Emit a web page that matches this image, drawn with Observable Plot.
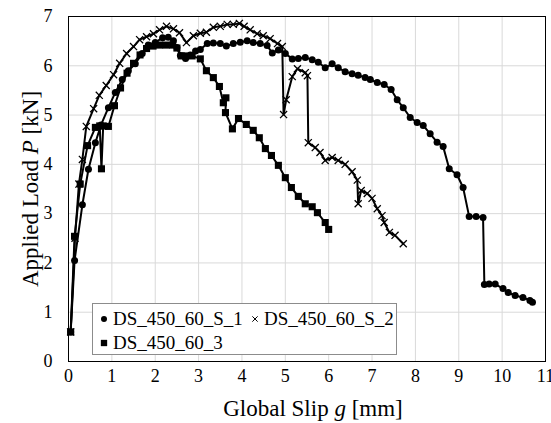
<!DOCTYPE html>
<html>
<head>
<meta charset="utf-8">
<script src="https://cdn.jsdelivr.net/npm/d3@7"></script>
<script src="https://cdn.jsdelivr.net/npm/@observablehq/plot@0.6"></script>
<style>
  body { margin: 0; background: white; }
  #chart { width: 551px; height: 423px; }
</style>
</head>
<body>
<div id="chart"></div>
<script>
const xTicks = [0, 1, 2, 3, 4, 5, 6, 7, 8, 9, 10, 11];
const yTicks = [0, 1, 2, 3, 4, 5, 6, 7];
const seriesNames = ["DS_450_60_S_1", "DS_450_60_S_2", "DS_450_60_3"];

const s1x = [0.05,0.14,0.32,0.46,0.62,0.75,0.92,1.08,1.24,1.38,1.54,1.7,1.84,2.0,2.17,2.3,2.42,2.5,2.58,2.7,2.81,2.93,3.04,3.2,3.34,3.5,3.64,3.8,3.96,4.12,4.26,4.42,4.58,4.7,4.84,5.0,5.16,5.3,5.46,5.62,5.76,5.92,6.08,6.22,6.38,6.54,6.68,6.84,6.96,7.12,7.28,7.44,7.58,7.72,7.88,8.04,8.18,8.34,8.5,8.64,8.78,8.96,9.1,9.24,9.4,9.56,9.59,9.7,9.84,10.02,10.14,10.3,10.48,10.64,10.7];
const s1y = [0.6,2.05,3.18,3.9,4.44,4.8,5.15,5.46,5.72,5.9,6.04,6.25,6.42,6.47,6.57,6.58,6.51,6.37,6.21,6.15,6.22,6.3,6.33,6.45,6.46,6.45,6.4,6.45,6.48,6.51,6.47,6.45,6.41,6.26,6.32,6.25,6.14,6.15,6.17,6.12,6.07,5.96,6.04,5.96,5.88,5.84,5.81,5.76,5.72,5.66,5.62,5.52,5.31,5.15,4.95,4.85,4.79,4.62,4.45,4.36,3.91,3.79,3.53,2.94,2.94,2.92,1.56,1.57,1.57,1.48,1.4,1.34,1.3,1.24,1.2];

const s2x = [0.05,0.15,0.24,0.32,0.41,0.58,0.71,0.87,1.04,1.18,1.34,1.5,1.64,1.8,1.96,2.1,2.26,2.42,2.56,2.72,2.88,3.04,3.18,3.34,3.5,3.66,3.8,3.94,4.05,4.19,4.35,4.49,4.65,4.82,4.93,4.96,5.02,5.16,5.28,5.46,5.51,5.53,5.69,5.8,5.92,6.08,6.22,6.38,6.54,6.66,6.68,6.75,6.89,7.0,7.12,7.23,7.28,7.4,7.53,7.72];
const s2y = [0.6,2.5,3.6,4.1,4.77,5.13,5.4,5.6,5.82,6.05,6.25,6.39,6.53,6.59,6.65,6.73,6.8,6.75,6.67,6.47,6.61,6.66,6.68,6.78,6.8,6.84,6.84,6.86,6.8,6.73,6.65,6.61,6.55,6.45,6.39,5.01,5.31,5.78,5.94,5.86,5.8,4.44,4.34,4.24,4.08,4.14,4.08,4.0,3.85,3.68,3.2,3.47,3.41,3.31,3.1,2.96,2.82,2.62,2.56,2.39];

const s3x = [0.05,0.14,0.27,0.44,0.62,0.72,0.76,0.8,0.92,1.06,1.2,1.35,1.5,1.65,1.8,1.95,2.1,2.25,2.4,2.5,2.6,2.7,2.85,3.04,3.18,3.34,3.48,3.57,3.63,3.62,3.78,3.92,4.1,4.26,4.4,4.54,4.68,4.84,5.0,5.14,5.3,5.46,5.62,5.74,5.92,6.0];
const s3y = [0.6,2.54,3.6,4.38,4.75,4.78,3.91,4.78,4.77,5.19,5.55,5.85,6.05,6.22,6.35,6.4,6.42,6.42,6.42,6.36,6.2,6.2,6.2,6.14,5.9,5.76,5.58,5.25,5.35,5.05,4.72,4.93,4.81,4.69,4.54,4.32,4.18,3.98,3.73,3.53,3.35,3.2,3.14,3.02,2.82,2.68];

const toRows = (xs, ys, name) => xs.map((x, i) => ({x, y: ys[i], name}));
const d1 = toRows(s1x, s1y, seriesNames[0]);
const d2 = toRows(s2x, s2y, seriesNames[1]);
const d3r = toRows(s3x, s3y, seriesNames[2]);

const ff = "'Liberation Serif', 'Times New Roman', serif";

const plot = Plot.plot({
  width: 551,
  height: 423,
  marginLeft: 68,
  marginRight: 6,
  marginTop: 16,
  marginBottom: 62,
  style: {fontFamily: ff, fontSize: "18px", color: "black", background: "white", overflow: "visible"},
  x: {domain: [0, 11]},
  y: {domain: [0, 7]},
  marks: [
    Plot.gridX(xTicks, {stroke: "#d9d9d9", strokeOpacity: 1}),
    Plot.gridY(yTicks, {stroke: "#d9d9d9", strokeOpacity: 1}),
    Plot.axisX(xTicks, {tickSize: 0, tickPadding: 8, label: null, fontSize: 18}),
    Plot.axisY(yTicks, {tickSize: 0, tickPadding: 16, label: null, fontSize: 18}),
    Plot.line(d3r, {x: "x", y: "y", stroke: "black", strokeWidth: 2}),
    Plot.dot(d3r, {x: "x", y: "y", symbol: "square", r: 4, fill: "black"}),
    Plot.line(d2, {x: "x", y: "y", stroke: "black", strokeWidth: 2}),
    Plot.dot(d2, {x: "x", y: "y", symbol: "times", r: 3.3, stroke: "black", strokeWidth: 1.3}),
    Plot.line(d1, {x: "x", y: "y", stroke: "black", strokeWidth: 2}),
    Plot.dot(d1, {x: "x", y: "y", symbol: "circle", r: 3.5, fill: "black"}),
    Plot.frame({stroke: "black"})
  ]
});
document.getElementById("chart").appendChild(plot);

const svg = d3.select(plot);

// X axis title
const xt = svg.append("text")
  .attr("x", 313).attr("y", 416)
  .style("text-anchor", "middle")
  .style("font-family", ff).style("font-size", "23px").attr("fill", "black");
xt.append("tspan").text("Global Slip ");
xt.append("tspan").style("font-style", "italic").text("g");
xt.append("tspan").text(" [mm]");

// Y axis title
const yt = svg.append("text")
  .attr("transform", "translate(38,189) rotate(-90)")
  .style("text-anchor", "middle")
  .style("font-family", ff).style("font-size", "23px").attr("fill", "black");
yt.append("tspan").text("Applied Load ");
yt.append("tspan").style("font-style", "italic").text("P");
yt.append("tspan").text(" [kN]");

// Legend
const lg = svg.append("g");
lg.append("rect").attr("x", 92.5).attr("y", 303.5).attr("width", 304).attr("height", 51)
  .attr("fill", "white").attr("stroke", "#8c8c8c");
const items = [
  {sym: d3.symbolCircle, size: Math.PI * 3 * 3, fill: "black", stroke: "none", mx: 104, tx: 113, by: 325, name: seriesNames[0]},
  {sym: d3.symbolTimes, size: 20, fill: "none", stroke: "black", mx: 255, tx: 264, by: 325, name: seriesNames[1]},
  {sym: d3.symbolSquare, size: 40, fill: "black", stroke: "none", mx: 104, tx: 113, by: 349, name: seriesNames[2]}
];
for (const it of items) {
  lg.append("path").attr("d", d3.symbol(it.sym, it.size)())
    .attr("transform", `translate(${it.mx},${it.by - 6})`)
    .attr("fill", it.fill).attr("stroke", it.stroke).attr("stroke-width", 1);
  lg.append("text").attr("x", it.tx).attr("y", it.by)
    .style("text-anchor", "start")
    .style("font-family", ff).style("font-size", "19px").attr("fill", "black")
    .text(it.name);
}
</script>
</body>
</html>
